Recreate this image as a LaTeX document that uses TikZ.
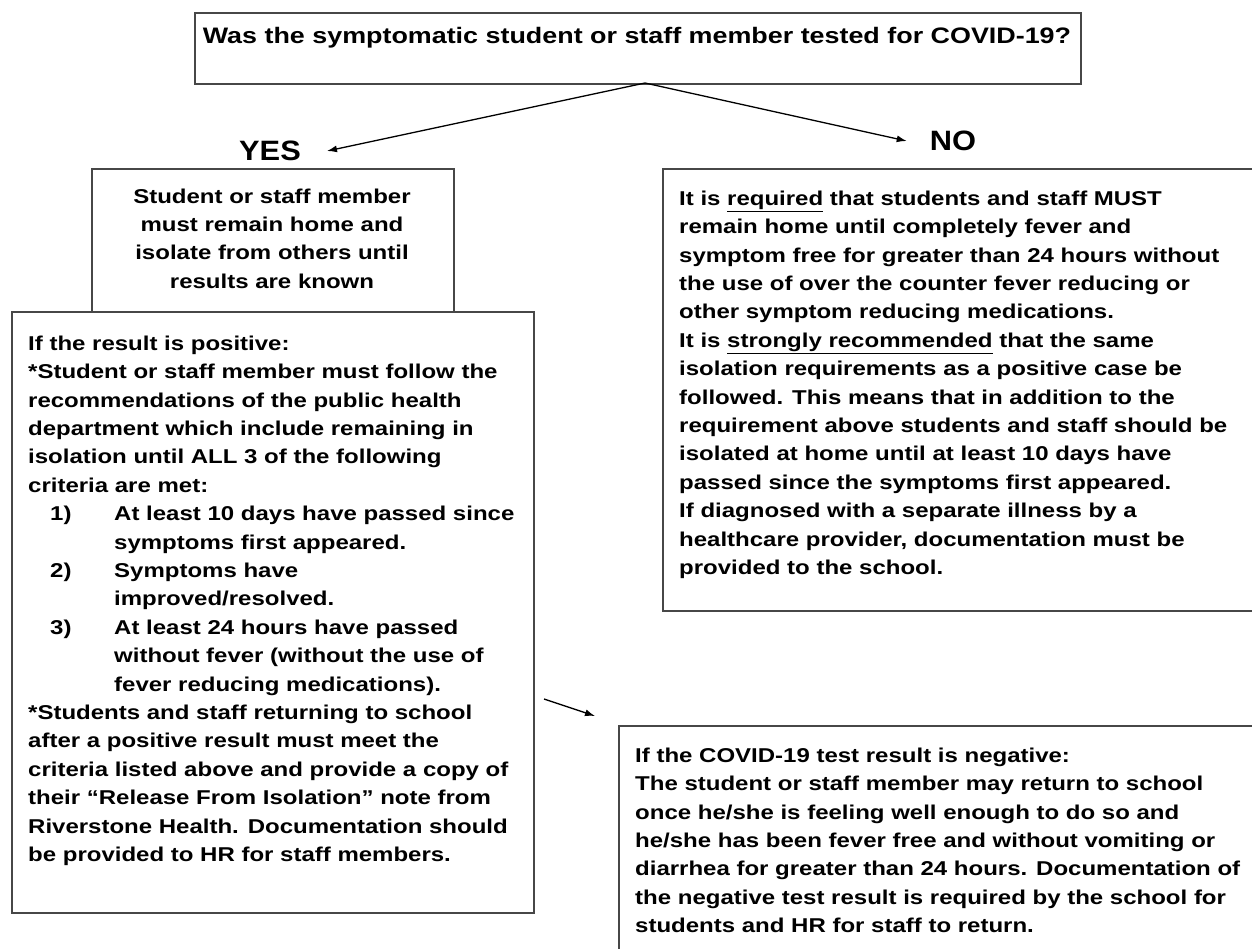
\documentclass[tikz,border=0pt]{standalone}
\usepackage{fontspec}
\setmainfont{Liberation Sans}[FakeStretch=1.2]
\newfontfamily\headfont{Liberation Sans}[FakeStretch=1.1]
\usetikzlibrary{arrows.meta}
\begin{document}
\begin{tikzpicture}[x=1pt,y=-1pt,
  boxshape/.style={draw=black!72, line width=1.6pt, fill=white, rectangle, inner sep=0pt, anchor=north west},
  bodytext/.style={font=\bfseries\fontsize{20}{28.4}\selectfont, align=left, inner sep=0pt, anchor=north west},
  ctrtext/.style={font=\bfseries\fontsize{20}{28.4}\selectfont, align=center, inner sep=0pt, anchor=north},
  bigtext/.style={font=\headfont\bfseries\fontsize{28}{30}\selectfont, inner ysep=0pt},
  flow/.style={-{Latex[length=10pt,width=7pt]}, line width=1.3pt, black}]
\useasboundingbox[fill=white] (0,0) rectangle (1252,948);

% question box
\node[boxshape, minimum width=886pt, minimum height=71pt] (q) at (194,12) {};
\node[font=\bfseries\fontsize{22.4}{26}\selectfont, inner sep=0pt, anchor=base] (qt) at (637,43)
  {Was the symptomatic student or staff member tested for COVID-19?};
\coordinate (apex) at (645,83);

% labels
\node[bigtext, inner xsep=26pt] (yes) at (270,151) {YES};
\node[bigtext, inner xsep=23pt] (no) at (953,141) {NO};

\draw[flow] (apex) -- (yes.east);
\draw[flow] (apex) -- (no.west);

% YES box
\node[boxshape, minimum width=362pt, minimum height=143pt] (yesbox) at (91,168) {};
\node[ctrtext] (yestext) at (272,188.5)
  {Student or staff member\\must remain home and\\isolate from others until\\results are known};

% positive box
\node[boxshape, minimum width=522pt, minimum height=601pt] (posbox) at (11,311) {};
\node[bodytext] (postext) at (28,335.5)
  {If the result is positive:\\
   *Student or staff member must follow the\\
   recommendations of the public health\\
   department which include remaining in\\
   isolation until ALL 3 of the following\\
   criteria are met:\\
   \hspace*{22pt}\makebox[64pt][l]{1)}At least 10 days have passed since\\
   \hspace*{86pt}symptoms first appeared.\\
   \hspace*{22pt}\makebox[64pt][l]{2)}Symptoms have\\
   \hspace*{86pt}improved/resolved.\\
   \hspace*{22pt}\makebox[64pt][l]{3)}At least 24 hours have passed\\
   \hspace*{86pt}without fever (without the use of\\
   \hspace*{86pt}fever reducing medications).\\
   *Students and staff returning to school\\
   after a positive result must meet the\\
   criteria listed above and provide a copy of\\
   their “Release From Isolation” note from\\
   Riverstone Health. Documentation should\\
   be provided to HR for staff members.};

% NO box
\node[boxshape, minimum width=640pt, minimum height=442pt] (nobox) at (662,168) {};
\node[bodytext] (notext) at (679,190.5)
  {It is \underline{required} that students and staff MUST\\
   remain home until completely fever and\\
   symptom free for greater than 24 hours without\\
   the use of over the counter fever reducing or\\
   other symptom reducing medications.\\
   It is \underline{strongly recommended} that the same\\
   isolation requirements as a positive case be\\
   followed. This means that in addition to the\\
   requirement above students and staff should be\\
   isolated at home until at least 10 days have\\
   passed since the symptoms first appeared.\\
   If diagnosed with a separate illness by a\\
   healthcare provider, documentation must be\\
   provided to the school.};

% negative box
\node[boxshape, minimum width=700pt, minimum height=300pt] (negbox) at (618,725) {};
\node[bodytext] (negtext) at (635,747.5)
  {If the COVID-19 test result is negative:\\
   The student or staff member may return to school\\
   once he/she is feeling well enough to do so and\\
   he/she has been fever free and without vomiting or\\
   diarrhea for greater than 24 hours. Documentation of\\
   the negative test result is required by the school for\\
   students and HR for staff to return.};

% small arrow between boxes
\coordinate (m1) at (544,699);
\coordinate (m2) at (595,716);
\draw[flow] (m1) -- (m2);
\end{tikzpicture}
\end{document}
